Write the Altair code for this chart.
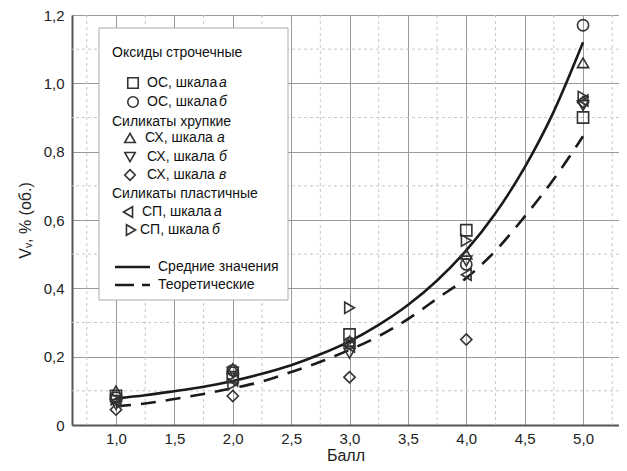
import altair as alt
import pandas as pd

F = "Liberation Sans Narrow, Liberation Sans, sans-serif"
INK = "#333333"

# ---- data ----
ball = [1.0, 2.0, 3.0, 4.0, 5.0]
os_a = [0.085, 0.14, 0.265, 0.57, 0.90]   # square
os_b = [0.08, 0.16, 0.24, 0.47, 1.17]     # circle
sx_a = [0.10, 0.165, 0.245, 0.50, 1.06]   # triangle-up
sx_b = [0.06, 0.155, 0.21, 0.48, 0.935]   # triangle-down
sx_v = [0.045, 0.085, 0.14, 0.25, 0.945]  # diamond
sp_a = [0.07, 0.13, 0.23, 0.44, 0.95]     # triangle-left
sp_b = [0.075, 0.12, 0.343, 0.54, 0.96]   # triangle-right

curve_x = [1.0, 1.25, 1.5, 1.75, 2.0, 2.25, 2.5, 2.75, 3.0, 3.25, 3.5, 3.75, 4.0, 4.25, 4.5, 4.75, 5.0]
mean_vals = [0.078, 0.087, 0.099, 0.112, 0.129, 0.150, 0.175, 0.207, 0.245, 0.293, 0.351, 0.423, 0.511, 0.620, 0.754, 0.918, 1.12]
theor_vals = [0.055, 0.063, 0.076, 0.091, 0.108, 0.127, 0.155, 0.185, 0.22, 0.26, 0.31, 0.37, 0.43, 0.51, 0.61, 0.72, 0.845]

major_x = [1.0, 1.5, 2.0, 2.5, 3.0, 3.5, 4.0, 4.5, 5.0]
minor_x = [0.75, 1.25, 1.75, 2.25, 2.75, 3.25, 3.75, 4.25, 4.75, 5.25]
major_y = [0.0, 0.2, 0.4, 0.6, 0.8, 1.0, 1.2]
minor_y = [0.1, 0.3, 0.5, 0.7, 0.9, 1.1]

series = ["ОС а", "ОС б", "СХ а", "СХ б", "СХ в", "СП а", "СП б"]
shapes = ["square", "circle", "triangle-up", "triangle-down", "diamond", "triangle-left", "triangle-right"]
vals = [os_a, os_b, sx_a, sx_b, sx_v, sp_a, sp_b]

rows = []
for s, v in zip(series, vals):
    for b, y in zip(ball, v):
        rows.append({"ball": b, "v": y, "s": s})
pts = pd.DataFrame(rows)
curves = pd.DataFrame({"ball": curve_x, "mean": mean_vals, "theor": theor_vals})

XD = [0.623, 5.308]
xs = alt.Scale(domain=XD, nice=False, zero=False)
ys = alt.Scale(domain=[0, 1.2], nice=False)

xaxis = alt.Axis(values=major_x, title="Балл", grid=True, gridColor="#9a9a9a", gridWidth=1,
                 labelExpr="replace(format(datum.value, '.1f'), '.', ',')",
                 labelFont=F, labelFontSize=15, labelColor="#222", labelPadding=6,
                 titleFont=F, titleFontSize=16, titleFontWeight="normal", titleColor="#222",
                 titleBaseline="alphabetic", titleY=35,
                 domainColor="#555", domainWidth=2, tickSize=0)
yaxis = alt.Axis(values=major_y, title="Vᵥ, % (об.)", grid=True, gridColor="#9a9a9a", gridWidth=1,
                 labelExpr="datum.value == 0 ? '0' : replace(format(datum.value, '.1f'), '.', ',')",
                 labelFont=F, labelFontSize=15, labelColor="#222", labelPadding=8,
                 titleFont=F, titleFontSize=16, titleFontWeight="normal", titleColor="#222", titlePadding=10,
                 domainColor="#555", domainWidth=2, tickSize=0)

def X(f):
    return alt.X(f, scale=xs, axis=xaxis)
def Y(f):
    return alt.Y(f, scale=ys, axis=yaxis)

minor_v = alt.Chart(pd.DataFrame({"mx": minor_x})).mark_rule(color="#c8c8c8", strokeDash=[3, 3], strokeWidth=1).encode(
    x=X("mx:Q"))
minor_h = alt.Chart(pd.DataFrame({"my": minor_y})).mark_rule(color="#c8c8c8", strokeDash=[3, 3], strokeWidth=1).encode(
    y=Y("my:Q"))

theor = alt.Chart(curves).mark_line(color="#1a1a1a", strokeWidth=2.6, strokeDash=[15, 10], interpolate="monotone").encode(
    x=X("ball:Q"), y=Y("theor:Q"))
mean = alt.Chart(curves).mark_line(color="#1a1a1a", strokeWidth=2.6, interpolate="monotone").encode(
    x=X("ball:Q"), y=Y("mean:Q"))

points = alt.Chart(pts).mark_point(filled=False, strokeWidth=1.6, size=125, opacity=1).encode(
    x=X("ball:Q"),
    y=Y("v:Q"),
    shape=alt.Shape("s:N", scale=alt.Scale(domain=series, range=shapes), legend=None),
    color=alt.value(INK),
)

# ---- hand-built legend (pixel positions inside the plot area) ----
OX, OY = 72, 15
def px(x):
    return x - OX
def py(y):
    return y - OY

leg = []
leg.append(alt.Chart().mark_rect(fill="white", stroke="#aaaaaa", strokeWidth=1).encode(
    x=alt.value(px(99)), x2=alt.value(px(288)), y=alt.value(py(28)), y2=alt.value(py(300))))

def txt(x, y, t, italic=False, size=14):
    return alt.Chart().mark_text(align="left", baseline="middle", font=F, fontSize=size,
                                 fontStyle="italic" if italic else "normal", color="#111").encode(
        x=alt.value(px(x)), y=alt.value(py(y)), text=alt.value(t))

def sym(x, y, shape):
    return alt.Chart().mark_point(shape=shape, filled=False, strokeWidth=1.6, size=110, color=INK, opacity=1).encode(
        x=alt.value(px(x)), y=alt.value(py(y)))

leg_heads = [("Оксиды строчечные", 53), ("Силикаты хрупкие", 122), ("Силикаты пластичные", 194)]
for t, y in leg_heads:
    leg.append(txt(112, y, t))

leg_items = [
    ("square", 133, 83, "ОС, шкала", 147, "а", 219),
    ("circle", 133, 102, "ОС, шкала", 147, "б", 219),
    ("triangle-up", 130, 138, "СХ, шкала", 145, "а", 217),
    ("triangle-down", 130, 157, "СХ, шкала", 147, "б", 219),
    ("diamond", 130, 175, "СХ, шкала", 147, "в", 219),
    ("triangle-left", 128, 212, "СП, шкала", 142, "а", 214),
    ("triangle-right", 131, 230, "СП, шкала", 140, "б", 212),
]
for shp, sx, sy, t, tx, it, ix in leg_items:
    leg.append(sym(sx, sy, shp))
    leg.append(txt(tx, sy, t))
    leg.append(txt(ix, sy, it, italic=True))

leg.append(alt.Chart().mark_rule(color="#1a1a1a", strokeWidth=2.6).encode(
    x=alt.value(px(115)), x2=alt.value(px(150)), y=alt.value(py(267))))
leg.append(txt(158, 267, "Средние значения"))
leg.append(alt.Chart().mark_rule(color="#1a1a1a", strokeWidth=2.6, strokeDash=[19, 8]).encode(
    x=alt.value(px(115)), x2=alt.value(px(150)), y=alt.value(py(285))))
leg.append(txt(158, 285, "Теоретические"))

chart = alt.layer(minor_v, minor_h, theor, mean, points, *leg).properties(
    width=547, height=410,
    autosize=alt.AutoSizeParams(type="none"),
    padding={"left": 64, "top": 7, "right": 0, "bottom": 38},
).configure_view(stroke="#aaaaaa", strokeWidth=1)

chart.save("out.html", embed_options={"renderer": "svg", "actions": False})
